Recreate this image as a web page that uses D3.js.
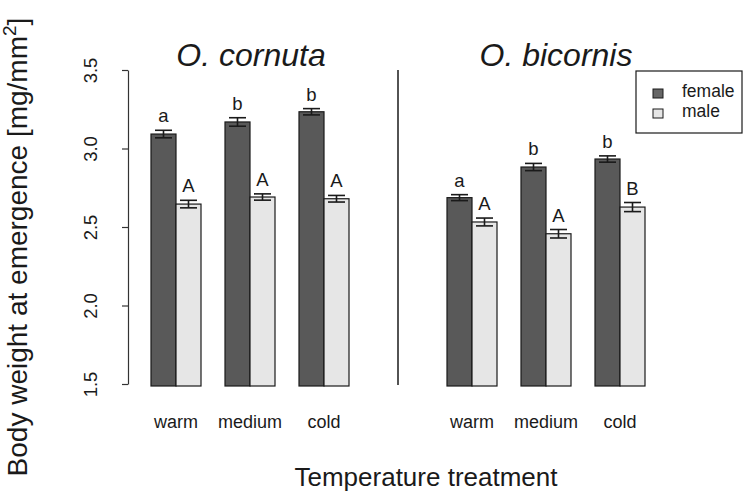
<!DOCTYPE html>
<html>
<head>
<meta charset="utf-8">
<script src="https://cdn.jsdelivr.net/npm/d3@7"></script>
<style>
  html, body { margin: 0; padding: 0; background: #fff; }
  svg { display: block; font-family: "Liberation Sans", Arial, Helvetica, sans-serif; }
</style>
</head>
<body>
<svg id="chart" width="744" height="495"></svg>
<script>
// ---- data ----
const species = ["O. cornuta", "O. bicornis"];
const temperatures = ["warm", "medium", "cold"];
const sexes = ["female", "male"];
// order: cornuta warm, medium, cold, bicornis warm, medium, cold
const femaleMean = [3.092, 3.169, 3.234, 2.687, 2.882, 2.933];
const femaleSE   = [0.024, 0.027, 0.020, 0.019, 0.023, 0.020];
const maleMean   = [2.646, 2.691, 2.680, 2.532, 2.457, 2.627];
const maleSE     = [0.024, 0.020, 0.021, 0.025, 0.027, 0.029];
const femaleLetters = ["a", "b", "b", "a", "b", "b"];
const maleLetters   = ["A", "A", "A", "A", "A", "B"];
const yTicks = [1.5, 2.0, 2.5, 3.0, 3.5];
const yDomain = [1.5, 3.5];

// ---- build ----
const svg = d3.select("#chart");
const ink = "#1a1a1a";
const fills = { female: "#595959", male: "#e6e6e6" };

const y = d3.scaleLinear().domain(yDomain).range([384, 70]);

const slots = [];
species.forEach((s, i) => {
  if (i > 0) slots.push("gap");
  temperatures.forEach(t => slots.push(s + "|" + t));
});
const x = d3.scaleBand().domain(slots).range([151, 645]).paddingInner(24 / 74).paddingOuter(0);
const xs = d3.scaleBand().domain(sexes).range([0, x.bandwidth()]).padding(0);

const rows = [];
species.forEach((s, si) => {
  temperatures.forEach((t, ti) => {
    const k = si * temperatures.length + ti;
    rows.push({ key: s + "|" + t, temp: t, sex: "female", mean: femaleMean[k], se: femaleSE[k], letter: femaleLetters[k] });
    rows.push({ key: s + "|" + t, temp: t, sex: "male", mean: maleMean[k], se: maleSE[k], letter: maleLetters[k] });
  });
});

const bottom = y(yDomain[0]) + 2;

// bars
svg.append("g").selectAll("rect").data(rows).join("rect")
  .attr("x", d => x(d.key) + xs(d.sex))
  .attr("y", d => y(d.mean))
  .attr("width", xs.bandwidth())
  .attr("height", d => bottom - y(d.mean))
  .attr("fill", d => fills[d.sex])
  .attr("stroke", ink)
  .attr("stroke-width", 1.2);

// error bars
const eb = svg.append("g").attr("stroke", ink).attr("stroke-width", 1.6).attr("fill", "none");
rows.forEach(d => {
  const cx = x(d.key) + xs(d.sex) + xs.bandwidth() / 2;
  const hw = 8.5;
  eb.append("line").attr("x1", cx).attr("x2", cx).attr("y1", y(d.mean - d.se)).attr("y2", y(d.mean + d.se));
  eb.append("line").attr("x1", cx - hw).attr("x2", cx + hw).attr("y1", y(d.mean - d.se)).attr("y2", y(d.mean - d.se));
  eb.append("line").attr("x1", cx - hw).attr("x2", cx + hw).attr("y1", y(d.mean + d.se)).attr("y2", y(d.mean + d.se));
});

// significance letters
svg.append("g").selectAll("text").data(rows).join("text")
  .attr("x", d => x(d.key) + xs(d.sex) + xs.bandwidth() / 2)
  .attr("y", d => y(d.mean + d.se) - 8)
  .attr("text-anchor", "middle")
  .attr("font-size", 18.5)
  .attr("fill", ink)
  .text(d => d.letter);

// y axis
const yAxis = d3.axisLeft(y).tickValues(yTicks).tickFormat(d3.format(".1f")).tickSize(6).tickSizeOuter(0);
const ga = svg.append("g").attr("transform", "translate(128,0)").call(yAxis);
ga.select(".domain").attr("stroke", "#333").attr("stroke-width", 1.2);
ga.selectAll(".tick line").attr("stroke", "#333").attr("stroke-width", 1.2);
ga.selectAll(".tick text")
  .attr("font-size", 18.5)
  .attr("font-family", "Liberation Sans, Arial, sans-serif")
  .attr("fill", ink)
  .attr("transform", "rotate(-90)")
  .attr("x", 0)
  .attr("y", -31)
  .attr("dy", 0)
  .attr("text-anchor", "middle");

// category labels
svg.append("g").selectAll("text").data(rows.filter(d => d.sex === "female")).join("text")
  .attr("x", d => x(d.key) + x.bandwidth() / 2)
  .attr("y", 428)
  .attr("text-anchor", "middle")
  .attr("font-size", 18)
  .attr("fill", ink)
  .text(d => d.temp);

// divider
const gapX = x("gap") + x.bandwidth() / 2;
svg.append("line").attr("x1", gapX).attr("x2", gapX).attr("y1", y(3.5)).attr("y2", y(1.5) + 1)
  .attr("stroke", ink).attr("stroke-width", 1.5);

// species titles
species.forEach((s, i) => {
  const first = x(s + "|" + temperatures[0]);
  const last = x(s + "|" + temperatures[temperatures.length - 1]) + x.bandwidth();
  svg.append("text")
    .attr("x", (first + last) / 2 + (i === 0 ? 1 : 10))
    .attr("y", 66)
    .attr("text-anchor", "middle")
    .attr("font-size", 32)
    .attr("font-style", "italic")
    .attr("fill", ink)
    .text(s);
});

// legend
const lg = svg.append("g");
lg.append("rect").attr("x", 636).attr("y", 71).attr("width", 106).attr("height", 62)
  .attr("fill", "#fff").attr("stroke", ink).attr("stroke-width", 1.2);
sexes.forEach((s, i) => {
  lg.append("rect").attr("x", 653).attr("y", 89 + i * 20).attr("width", 10).attr("height", 9)
    .attr("fill", s === "female" ? "#666" : fills[s]).attr("stroke", ink).attr("stroke-width", 1);
  lg.append("text").attr("x", 682).attr("y", 97 + i * 20)
    .attr("font-size", 17.5).attr("fill", ink).text(s);
});

// axis titles
svg.append("text").attr("x", 426).attr("y", 486)
  .attr("text-anchor", "middle").attr("font-size", 26).attr("fill", ink)
  .text("Temperature treatment");

const yt = svg.append("text")
  .attr("transform", "translate(27,247) rotate(-90)")
  .attr("text-anchor", "middle").attr("font-size", 28).attr("fill", ink);
yt.append("tspan").text("Body weight at emergence [mg/mm");
yt.append("tspan").attr("font-size", 19).attr("dy", -11).text("2");
yt.append("tspan").attr("dy", 11).text("]");
</script>
</body>
</html>
